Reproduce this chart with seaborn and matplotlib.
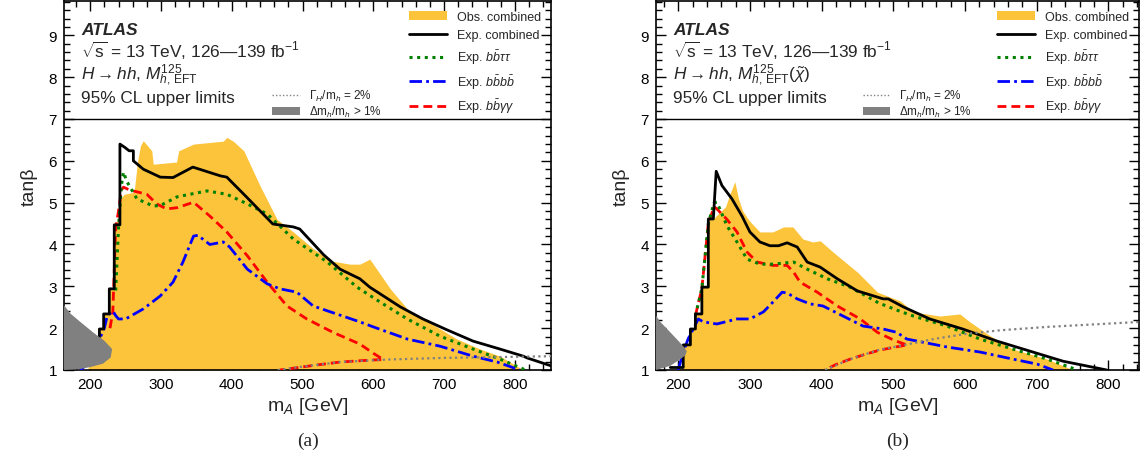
import numpy as np
import pandas as pd
import matplotlib
matplotlib.use("Agg")
import matplotlib.pyplot as plt
from matplotlib.lines import Line2D
from matplotlib.patches import Patch
from matplotlib.ticker import MultipleLocator
import seaborn as sns

# ---------------- Panel (a): M_h,EFT^125 ----------------
a_obs_x = [196, 205, 213, 213, 219, 219, 227, 227, 234, 234, 240, 243, 248, 262, 267, 271, 275, 287, 289, 322, 325, 346, 388, 393, 402, 417, 440, 464, 487, 515, 543, 567, 581, 595, 624, 648, 676, 718, 751, 779, 812]
a_obs_y = [1.0, 1.4, 1.78, 1.98, 1.98, 2.34, 2.34, 2.94, 2.94, 4.47, 4.6, 5.1, 5.2, 5.25, 6.0, 6.36, 6.48, 6.24, 5.92, 5.97, 6.24, 6.40, 6.47, 6.56, 6.47, 6.24, 5.4, 4.6, 4.3, 3.9, 3.6, 3.53, 3.53, 3.65, 2.94, 2.46, 2.17, 1.74, 1.5, 1.33, 1.0]

a_exp_x = [213, 213, 219, 219, 227, 227, 234, 234, 242, 242, 249, 255, 261, 261, 275, 299, 317, 345, 384, 393, 420, 458, 487, 496, 530, 553, 581, 595, 638, 670, 704, 741, 779, 812, 817, 851]
a_exp_y = [1.78, 1.98, 1.98, 2.34, 2.34, 2.94, 2.94, 4.47, 4.47, 6.40, 6.32, 6.24, 6.24, 6.0, 5.8, 5.61, 5.6, 5.85, 5.64, 5.61, 5.15, 4.49, 4.42, 4.37, 3.75, 3.41, 3.18, 2.98, 2.51, 2.22, 1.96, 1.69, 1.50, 1.33, 1.29, 1.1]

a_tautau_x = [236, 240, 244, 247, 252, 266, 289, 299, 323, 365, 393, 422, 450, 487, 535, 577, 610, 648, 694, 741, 779, 815]
a_tautau_y = [2.9, 4.4, 5.4, 5.73, 5.5, 5.09, 4.92, 4.93, 5.14, 5.28, 5.2, 4.97, 4.73, 4.13, 3.58, 2.98, 2.62, 2.22, 1.81, 1.5, 1.26, 1.0]

a_4b_x = [186, 200, 214, 220, 224, 232, 236, 240, 250, 275, 299, 317, 331, 346, 352, 369, 388, 397, 422, 450, 468, 492, 515, 548, 581, 600, 648, 694, 741, 775, 807]
a_4b_y = [1.0, 1.2, 1.77, 2.0, 2.29, 2.41, 2.3, 2.22, 2.22, 2.46, 2.77, 3.1, 3.58, 4.2, 4.22, 4.0, 4.06, 3.94, 3.41, 3.06, 2.94, 2.86, 2.53, 2.34, 2.15, 2.03, 1.74, 1.57, 1.33, 1.19, 1.0]

a_gg_x = [228, 232, 236, 240, 244, 247, 256, 280, 294, 308, 323, 346, 369, 393, 422, 450, 478, 506, 543, 581, 600, 614, 600, 580, 553, 520, 490, 468]
a_gg_y = [2.0, 2.4, 4.4, 4.8, 5.3, 5.37, 5.3, 5.2, 4.97, 4.85, 4.88, 5.01, 4.68, 4.3, 3.73, 3.1, 2.53, 2.22, 1.9, 1.62, 1.4, 1.25, 1.24, 1.22, 1.19, 1.12, 1.05, 1.0]

a_width_x = [465, 500, 553, 620, 700, 780, 851]
a_width_y = [1.0, 1.08, 1.19, 1.25, 1.29, 1.31, 1.33]

a_dm_x = [163, 172, 186, 204, 220, 231, 229, 218, 200, 185, 163]
a_dm_y = [2.55, 2.35, 2.15, 1.9, 1.7, 1.5, 1.3, 1.15, 1.07, 1.02, 1.0]

# ---------------- Panel (b): M_h,EFT^125(chi~) ----------------
b_obs_x = [200, 207, 207, 217, 217, 224, 224, 233, 233, 242, 242, 249, 254, 266, 272, 279, 284, 290, 300, 314, 332, 347, 360, 374, 388, 398, 416, 450, 478, 510, 528, 565, 593, 607, 635, 667, 715, 751]
b_obs_y = [1.0, 1.06, 1.6, 1.6, 1.98, 1.98, 2.34, 2.34, 2.98, 2.98, 4.61, 4.61, 4.7, 4.9, 5.2, 5.5, 5.1, 4.8, 4.55, 4.3, 4.3, 4.42, 4.42, 4.13, 4.06, 4.09, 3.82, 3.34, 2.86, 2.65, 2.39, 2.29, 2.34, 2.15, 1.82, 1.5, 1.26, 1.0]

b_exp_x = [189, 207, 207, 217, 217, 224, 224, 233, 233, 242, 242, 249, 253, 261, 275, 289, 300, 314, 328, 340, 352, 366, 380, 398, 422, 450, 486, 493, 514, 551, 597, 645, 691, 737, 798]
b_exp_y = [1.06, 1.06, 1.6, 1.6, 1.98, 1.98, 2.34, 2.34, 2.98, 2.98, 4.61, 4.61, 5.75, 5.41, 5.09, 4.68, 4.3, 4.06, 3.97, 3.97, 4.04, 3.94, 3.58, 3.46, 3.18, 2.89, 2.7, 2.7, 2.51, 2.22, 1.98, 1.69, 1.45, 1.21, 1.0]

b_tautau_x = [224, 233, 242, 250, 254, 268, 282, 296, 314, 332, 361, 380, 408, 440, 480, 510, 528, 575, 621, 667, 715, 757]
b_tautau_y = [2.3, 2.95, 4.5, 5.0, 5.01, 4.45, 4.06, 3.65, 3.53, 3.53, 3.58, 3.41, 3.18, 2.98, 2.6, 2.4, 2.29, 2.05, 1.74, 1.5, 1.26, 1.0]

b_4b_x = [200, 207, 214, 221, 228, 235, 254, 282, 300, 319, 332, 345, 352, 366, 384, 402, 430, 458, 486, 505, 519, 575, 621, 667, 701, 723]
b_4b_y = [1.0, 1.43, 1.75, 1.98, 2.22, 2.15, 2.1, 2.22, 2.22, 2.39, 2.62, 2.86, 2.84, 2.7, 2.58, 2.53, 2.29, 2.05, 1.98, 1.9, 1.74, 1.55, 1.43, 1.26, 1.14, 1.0]

b_gg_x = [224, 233, 242, 250, 254, 268, 282, 296, 310, 332, 352, 361, 370, 394, 422, 454, 478, 500, 514, 520, 500, 480, 460, 440, 420, 405]
b_gg_y = [2.3, 2.95, 4.5, 4.9, 4.85, 4.6, 4.3, 3.82, 3.58, 3.5, 3.5, 3.34, 3.1, 2.86, 2.53, 2.22, 1.9, 1.72, 1.63, 1.6, 1.54, 1.47, 1.37, 1.26, 1.13, 1.0]

b_width_x = [405, 440, 480, 510, 560, 600, 650, 715, 780, 845]
b_width_y = [1.0, 1.26, 1.48, 1.58, 1.75, 1.86, 1.95, 2.03, 2.09, 2.15]

b_dm_x = [169, 175, 189, 200, 207, 212, 210, 203, 189, 175, 169]
b_dm_y = [2.3, 2.15, 1.9, 1.7, 1.57, 1.45, 1.35, 1.26, 1.1, 1.03, 1.0]

model_labels = [r"$H\rightarrow hh$, $M_{h,\,\mathrm{EFT}}^{125}$",
                r"$H\rightarrow hh$, $M_{h,\,\mathrm{EFT}}^{125}(\tilde{\chi})$"]
panel_tags = ["(a)", "(b)"]
legend_labels = ["Obs. combined", "Exp. combined", r"Exp. $b\bar{b}\tau\tau$",
                 r"Exp. $b\bar{b}b\bar{b}$", r"Exp. $b\bar{b}\gamma\gamma$"]
aux_labels = [r"$\Gamma_H$/m$_h$ = 2%", r"$\Delta$m$_h$/m$_h$ > 1%"]

# ---------------- style ----------------
sns.set_theme(style="ticks")
plt.rcParams.update({
    "font.family": ["Liberation Sans", "DejaVu Sans"],
    "mathtext.fontset": "custom",
    "mathtext.rm": "Liberation Sans",
    "mathtext.it": "Liberation Sans:italic",
    "mathtext.bf": "Liberation Sans:bold",
    "axes.edgecolor": "black",
    "axes.linewidth": 1.2,
    "xtick.color": "black",
    "ytick.color": "black",
})

C_OBS = "#FCC43A"
C_DM = "#808080"
LS_DOT = (0, (1, 1.5))
LS_DASH = (0, (3.2, 1.8))
LS_DDOT = (0, (4.5, 1.5, 1.0, 1.5))

fig = plt.figure(figsize=(11.44, 4.6), dpi=100)
axes = [fig.add_axes([64/1144, 89/460, 487/1144, 369/460]),
        fig.add_axes([656/1144, 89/460, 483/1144, 369/460])]
xlims = [(163, 851), (169, 843)]

panels = [
    (a_obs_x, a_obs_y, a_exp_x, a_exp_y, a_tautau_x, a_tautau_y, a_4b_x, a_4b_y,
     a_gg_x, a_gg_y, a_width_x, a_width_y, a_dm_x, a_dm_y),
    (b_obs_x, b_obs_y, b_exp_x, b_exp_y, b_tautau_x, b_tautau_y, b_4b_x, b_4b_y,
     b_gg_x, b_gg_y, b_width_x, b_width_y, b_dm_x, b_dm_y),
]

for i, ax in enumerate(axes):
    (ox, oy, ex, ey, tx, ty, bx, by, gx, gy, wx, wy, dx, dy) = panels[i]
    ax.fill_between(ox, 1.0, oy, color=C_OBS, lw=0, zorder=1)
    sns.lineplot(x=gx, y=gy, sort=False, estimator=None, ax=ax, color="#FF0000",
                 lw=2.0, linestyle=LS_DASH, zorder=3, legend=False)
    sns.lineplot(x=bx, y=by, sort=False, estimator=None, ax=ax, color="#0000FF",
                 lw=2.0, linestyle=LS_DDOT, zorder=3, legend=False)
    sns.lineplot(x=tx, y=ty, sort=False, estimator=None, ax=ax, color="#008000",
                 lw=2.2, linestyle=LS_DOT, zorder=4, legend=False)
    sns.lineplot(x=ex, y=ey, sort=False, estimator=None, ax=ax, color="black",
                 lw=2.0, zorder=5, legend=False)
    sns.lineplot(x=wx, y=wy, sort=False, estimator=None, ax=ax, color="#808080",
                 lw=1.6, linestyle=LS_DOT, zorder=6, legend=False)
    ax.fill(dx, dy, color=C_DM, lw=0, zorder=6.5)
    ax.axhline(7.0, color="black", lw=1.0, zorder=7)

    ax.set_xlim(*xlims[i])
    ax.set_ylim(1.0, 9.82)
    ax.xaxis.set_major_locator(MultipleLocator(100))
    ax.xaxis.set_minor_locator(MultipleLocator(20))
    ax.yaxis.set_major_locator(MultipleLocator(1))
    ax.yaxis.set_minor_locator(MultipleLocator(0.2))
    ax.tick_params(which="both", direction="in", top=True, right=True,
                   labelsize=11, pad=5, width=1.0)
    ax.tick_params(which="major", length=7)
    ax.tick_params(which="minor", length=4)
    ax.set_xlabel(r"m$_A$ [GeV]", fontsize=14, labelpad=3)
    ax.set_ylabel("tanβ", fontsize=14, labelpad=8)

    ax.text(0.035, 0.924, "ATLAS", transform=ax.transAxes, fontsize=12.5,
            fontweight="bold", fontstyle="italic", va="center", ha="left")
    ax.text(0.035, 0.866, r"$\sqrt{\mathrm{s}}$ = 13 TeV, 126—139 fb$^{-1}$",
            transform=ax.transAxes, fontsize=12.4, va="center", ha="left")
    ax.text(0.035, 0.803, model_labels[i], transform=ax.transAxes, fontsize=12.4,
            va="center", ha="left")
    ax.text(0.035, 0.738, "95% CL upper limits", transform=ax.transAxes,
            fontsize=12.4, va="center", ha="left")

    handles = [Patch(facecolor=C_OBS, edgecolor="none"),
               Line2D([], [], color="black", lw=2.0),
               Line2D([], [], color="#008000", lw=2.2, linestyle=LS_DOT),
               Line2D([], [], color="#0000FF", lw=2.0, linestyle=LS_DDOT),
               Line2D([], [], color="#FF0000", lw=2.0, linestyle=LS_DASH)]
    leg1 = ax.legend(handles, legend_labels, loc="upper right",
                     bbox_to_anchor=(1.0, 1.0), frameon=False, fontsize=9,
                     handlelength=3.0, handletextpad=0.8, labelspacing=0.5,
                     borderaxespad=0.4)
    ax.add_artist(leg1)
    aux_handles = [Line2D([], [], color="#808080", lw=1.0, linestyle=LS_DOT),
                   Patch(facecolor=C_DM, edgecolor="none")]
    ax.legend(aux_handles, aux_labels, loc="lower left",
              bbox_to_anchor=(0.428, 0.68), frameon=False, fontsize=8.5,
              handlelength=2.3, handletextpad=0.8, labelspacing=0.05,
              borderaxespad=0.0, borderpad=0.0)

    cx = (ax.get_position().x0 + ax.get_position().x1) / 2
    fig.text(cx, 1 - 441/460, panel_tags[i], ha="center", va="center",
             fontsize=14, family=["Liberation Serif", "DejaVu Serif"])

fig.savefig("out.png", dpi=100)
